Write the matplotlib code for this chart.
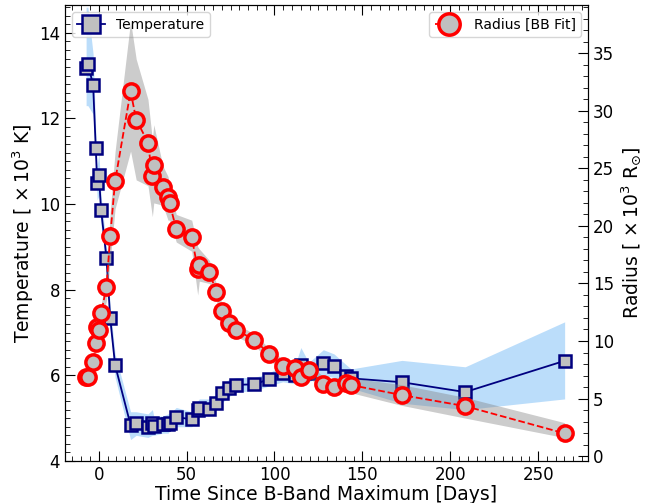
# Blackbody temperature and radius evolution

import numpy as np
from matplotlib import pyplot as plt
from matplotlib.ticker import MultipleLocator

# Data
days = [-7.2, -6.2, -3.2, -1.7, -0.9, 0.1, 1.3, 4.4, 6.5, 9.3,
        18.1, 21.3, 28.0, 30.5, 31.3, 36.5, 39.4, 40.3, 44.1, 52.9,
        56.3, 57.2, 63.0, 66.9, 69.9, 73.9, 78.3, 88.5, 96.8, 104.7,
        111.8, 115.0, 119.5, 127.8, 133.9, 140.7, 143.6, 172.5, 208.5, 265.1]

temp = [13.18, 13.28, 12.78, 11.30, 10.50, 10.68, 9.87, 8.74, 7.34, 6.24,
        4.84, 4.88, 4.79, 4.88, 4.82, 4.86, 4.86, 4.88, 5.03, 4.97,
        5.19, 5.23, 5.21, 5.36, 5.58, 5.70, 5.78, 5.79, 5.91, 6.05,
        6.01, 6.24, 6.05, 6.28, 6.23, 5.99, 5.93, 5.84, 5.61, 6.34]
temp_lo = [12.3, 12.3, 12.1, 10.9, 10.1, 10.2, 9.5, 8.5, 7.1, 5.95,
           4.5, 4.6, 4.55, 4.6, 4.6, 4.65, 4.65, 4.7, 4.8, 4.8,
           5.0, 5.05, 5.05, 5.2, 5.35, 5.5, 5.6, 5.65, 5.75, 5.85,
           5.8, 5.95, 5.85, 6.0, 5.95, 5.75, 5.7, 5.35, 5.2, 5.45]
temp_hi = [14.6, 14.6, 13.5, 11.7, 10.9, 11.2, 10.2, 9.0, 7.6, 6.5,
           5.15, 5.15, 5.1, 5.2, 5.05, 5.05, 5.1, 5.1, 5.25, 5.15,
           5.4, 5.45, 5.45, 5.55, 5.8, 5.9, 5.95, 5.95, 6.05, 6.25,
           6.25, 6.65, 6.3, 6.6, 6.5, 6.25, 6.15, 6.35, 6.2, 7.25]

radius = [6.9, 6.9, 8.2, 9.8, 11.2, 10.95, 12.4, 14.7, 19.1, 23.9,
          31.7, 29.25, 27.25, 24.3, 25.3, 23.4, 22.5, 22.0, 19.7, 19.0,
          16.3, 16.6, 15.96, 14.28, 12.6, 11.6, 10.95, 10.1, 8.9, 7.85,
          7.67, 6.89, 7.47, 6.26, 6.02, 6.37, 6.17, 5.3, 4.34, 1.97]
radius_lo = [6.6, 6.6, 7.8, 9.3, 10.6, 10.4, 11.7, 13.5, 17.0, 21.5,
             26.5, 24.0, 23.5, 20.8, 22.0, 21.8, 20.5, 20.5, 18.6, 17.8,
             14.0, 15.2, 15.0, 13.5, 12.0, 11.0, 10.4, 9.6, 8.4, 7.3,
             7.1, 6.3, 6.9, 5.6, 5.4, 5.7, 5.5, 4.4, 3.3, 1.6]
radius_hi = [7.2, 7.2, 8.6, 10.3, 11.8, 11.5, 13.1, 15.9, 21.2, 26.5,
             37.8, 34.5, 31.0, 27.5, 28.8, 25.2, 24.3, 23.5, 21.0, 20.5,
             18.2, 18.0, 17.0, 15.0, 13.3, 12.2, 11.5, 10.6, 9.4, 8.4,
             8.2, 7.5, 8.0, 6.9, 6.7, 7.0, 6.8, 6.2, 5.1, 2.9]

# Plot
plt.rcParams['font.family'] = 'DejaVu Sans'
fig, ax = plt.subplots(figsize=(6.55, 5.03), dpi=100)
fig.subplots_adjust(left=0.099, right=0.898, bottom=0.0835, top=0.99)

ax.fill_between(days, temp_lo, temp_hi, color='#1f8ff0', alpha=0.3, lw=0)
ax.plot(days, temp, '-s', color='navy', lw=1.3, ms=9, mew=1.8,
        mfc='silver', mec='navy', label='Temperature')

ax2 = ax.twinx()
ax2.fill_between(days, radius_lo, radius_hi, color='gray', alpha=0.4, lw=0)
ax2.plot(days, radius, '--o', color='red', lw=1.3, ms=11, mew=2.5,
         mfc='silver', mec='red', label='Radius [BB Fit]')

ax.set_xlim(-19.3, 278.5)
ax.set_ylim(4, 14.65)
ax2.set_ylim(-0.43, 39.2)

ax.xaxis.set_major_locator(MultipleLocator(50))
ax.xaxis.set_minor_locator(MultipleLocator(5))
ax.yaxis.set_major_locator(MultipleLocator(2))
ax.yaxis.set_minor_locator(MultipleLocator(0.2))
ax2.yaxis.set_major_locator(MultipleLocator(5))
ax2.yaxis.set_minor_locator(MultipleLocator(1))

ax.tick_params(which='both', direction='in', top=True, labelsize=12)
ax.tick_params(which='major', length=7)
ax.tick_params(which='minor', length=3.5)
ax2.tick_params(which='both', direction='in', labelsize=12)
ax2.tick_params(which='major', length=7)
ax2.tick_params(which='minor', length=3.5)

ax.set_xlabel('Time Since B-Band Maximum [Days]', fontsize=13.5, labelpad=1)
ax.set_ylabel(r'Temperature [ $\times\,10^3$ K]', fontsize=13.5, labelpad=2)
ax2.set_ylabel(r'Radius [ $\times\,10^3$ R$_{\odot}$]', fontsize=13.5, labelpad=4)

ax.legend(loc='upper left', fontsize=10, markerscale=1.4)
ax2.legend(loc='upper right', fontsize=10, markerscale=1.4)

plt.savefig('out.png')
